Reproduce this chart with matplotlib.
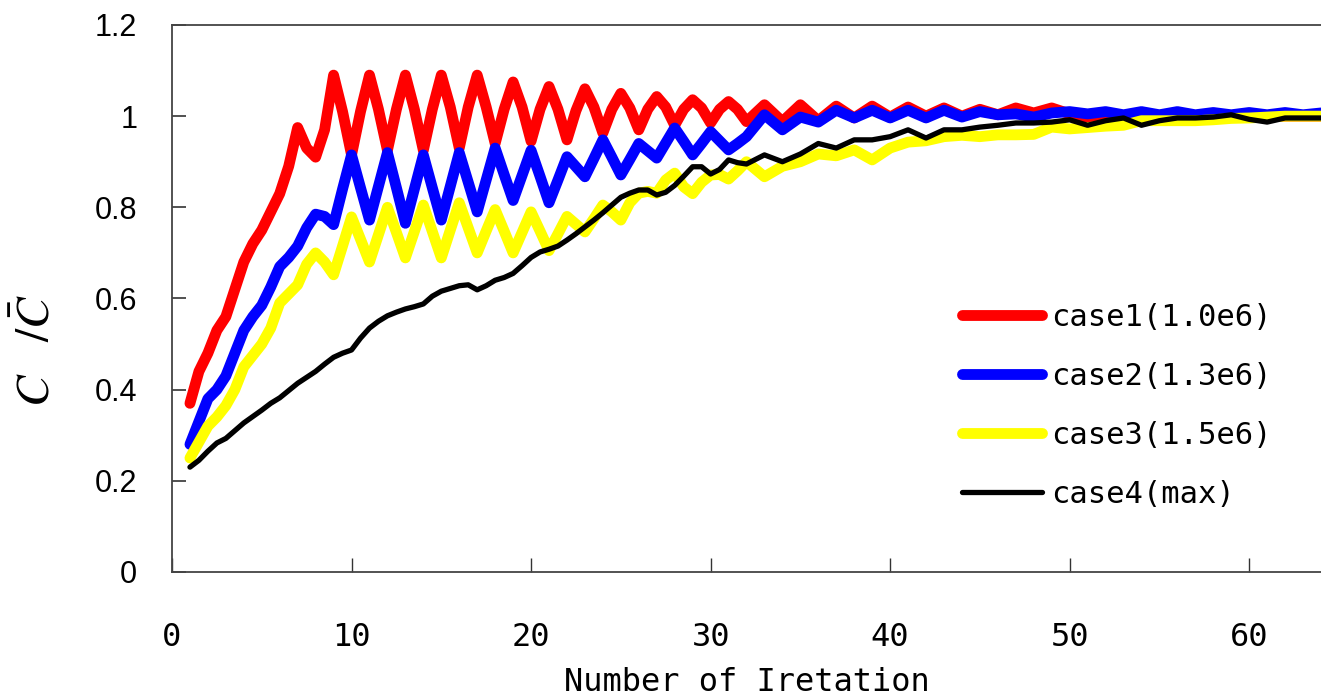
import numpy as np
import matplotlib
matplotlib.use("Agg")
import matplotlib.pyplot as plt

# iteration numbers: half steps up to 31.5, whole steps after
iters = np.concatenate([np.arange(1, 32, 0.5), np.arange(32, 65, 1)])

case1 = [0.37, 0.44, 0.48, 0.53, 0.56, 0.62, 0.68, 0.72, 0.75, 0.79,
         0.83, 0.89, 0.975, 0.93, 0.91, 0.97, 1.09, 1.01, 0.915, 1.01,
         1.09, 1.015, 0.925, 1.015, 1.09, 1.015, 0.925, 1.015, 1.09, 1.02,
         0.93, 1.02, 1.09, 1.02, 0.94, 1.015, 1.075, 1.02, 0.945, 1.015,
         1.065, 1.015, 0.948, 1.012, 1.06, 1.02, 0.963, 1.015, 1.05, 1.018,
         0.97, 1.015, 1.043, 1.02, 0.98, 1.015, 1.036, 1.018, 0.985, 1.015,
         1.032, 1.015,
         0.988, 1.025, 0.988, 1.025, 0.99, 1.022, 0.996, 1.022, 0.998, 1.02,
         1.0, 1.018, 1.0, 1.015, 1.003, 1.018, 1.007, 1.018, 1.005, 0.99,
         1.0, 1.0, 1.0, 1.0, 1.0, 1.0, 1.0, 1.0, 1.0, 1.0,
         1.0, 1.0, 1.0]

case2 = [0.28, 0.33, 0.38, 0.40, 0.43, 0.48, 0.53, 0.56, 0.585, 0.625,
         0.67, 0.69, 0.715, 0.755, 0.785, 0.78, 0.762, 0.84, 0.915, 0.843,
         0.772, 0.846, 0.92, 0.843, 0.765, 0.84, 0.915, 0.843, 0.772, 0.846,
         0.92, 0.855, 0.79, 0.86, 0.93, 0.872, 0.815, 0.87, 0.925, 0.868,
         0.81, 0.86, 0.911, 0.889, 0.867, 0.907, 0.948, 0.91, 0.871, 0.905,
         0.94, 0.924, 0.908, 0.941, 0.974, 0.945, 0.915, 0.94, 0.966, 0.946,
         0.926, 0.94,
         0.955, 1.003, 0.97, 0.998, 0.987, 1.013, 0.996, 1.013, 0.996, 1.013,
         0.996, 1.013, 0.998, 1.01, 1.003, 1.005, 0.998, 1.007, 1.01, 1.005,
         1.01, 1.003, 1.01, 1.003, 1.01, 1.003, 1.008, 1.003, 1.008, 1.003,
         1.008, 1.003, 1.007]

case3 = [0.25, 0.285, 0.32, 0.34, 0.365, 0.40, 0.45, 0.475, 0.50, 0.535,
         0.59, 0.61, 0.63, 0.675, 0.70, 0.68, 0.652, 0.715, 0.779, 0.73,
         0.68, 0.74, 0.80, 0.745, 0.689, 0.747, 0.805, 0.747, 0.689, 0.75,
         0.81, 0.755, 0.70, 0.748, 0.795, 0.748, 0.70, 0.745, 0.79, 0.748,
         0.705, 0.742, 0.78, 0.763, 0.746, 0.775, 0.805, 0.79, 0.772, 0.81,
         0.831, 0.835, 0.831, 0.86, 0.875, 0.845, 0.83, 0.855, 0.871, 0.872,
         0.862, 0.88,
         0.9, 0.867, 0.89, 0.9, 0.917, 0.913, 0.926, 0.904, 0.93, 0.943,
         0.946, 0.955, 0.958, 0.955, 0.959, 0.959, 0.96, 0.976, 0.972, 0.975,
         0.978, 0.98, 0.99, 0.99, 0.99, 0.99, 0.992, 0.995, 0.996, 0.998,
         1.0, 1.0, 1.0]

case4 = [0.23, 0.245, 0.265, 0.283, 0.293, 0.31, 0.327, 0.341, 0.355, 0.37,
         0.382, 0.398, 0.414, 0.427, 0.44, 0.456, 0.471, 0.48, 0.487, 0.513,
         0.535, 0.55, 0.562, 0.57, 0.577, 0.582, 0.588, 0.605, 0.616, 0.622,
         0.628, 0.63, 0.619, 0.628, 0.64, 0.646, 0.655, 0.672, 0.69, 0.702,
         0.708, 0.715, 0.728, 0.742, 0.757, 0.772, 0.788, 0.805, 0.822, 0.831,
         0.838, 0.838, 0.827, 0.833, 0.848, 0.868, 0.889, 0.889, 0.873, 0.883,
         0.904, 0.898,
         0.895, 0.915, 0.9, 0.917, 0.94, 0.93, 0.948, 0.948, 0.955, 0.97,
         0.952, 0.97, 0.97, 0.976, 0.98, 0.985, 0.985, 0.987, 0.992, 0.98,
         0.99, 0.996, 0.98, 0.99, 0.996, 0.996, 0.998, 1.003, 0.993, 0.987,
         0.996, 0.996, 0.996]

labels = ["case1(1.0e6)", "case2(1.3e6)", "case3(1.5e6)", "case4(max)"]
colors = ["#ff0000", "#0000ff", "#ffff00", "#000000"]
widths = [7.8, 7.8, 7.8, 3.8]

xticks = [0, 10, 20, 30, 40, 50, 60]
yticks = [0, 0.2, 0.4, 0.6, 0.8, 1.0, 1.2]
ytick_labels = ["0", "0.2", "0.4", "0.6", "0.8", "1", "1.2"]

mono = ["DejaVu Sans Mono"]

plt.rcParams["mathtext.fontset"] = "stix"

fig = plt.figure(figsize=(13.21, 7.0), dpi=100)
ax = fig.add_axes([0.1302, 0.1829, 0.8698, 0.7814])

for ys, lab, c, w in zip([case1, case2, case3, case4], labels, colors, widths):
    ax.plot(iters, ys, color=c, lw=w, label=lab,
            solid_joinstyle="round", solid_capstyle="round")

ax.set_xlim(0, 64)
ax.set_ylim(0, 1.2)
ax.set_xticks(xticks)
ax.set_yticks(yticks)
ax.set_yticklabels(ytick_labels, family="Liberation Sans", fontsize=22)
ax.set_xticklabels([str(t) for t in xticks], family=mono, fontsize=23)
ax.tick_params(axis="y", direction="in", length=10, width=1.2, pad=25,
               color="#333333")
ax.tick_params(axis="x", direction="in", length=10, width=1.0, pad=36,
               color="#333333")

for side in ["left", "top", "bottom"]:
    ax.spines[side].set_color("#444444")
    ax.spines[side].set_linewidth(1.3)
ax.spines["right"].set_visible(False)

ax.set_xlabel("Number of Iretation", family=mono, fontsize=23, labelpad=10)
ax.set_ylabel(r"$C\ \ \ /\bar{C}$", fontsize=34)
ax.yaxis.set_label_coords(-0.098, 0.405)

leg = ax.legend(loc="center left", bbox_to_anchor=(0.717, 0.42),
                bbox_transform=fig.transFigure, frameon=False,
                prop={"family": mono, "size": 22}, handlelength=2.6,
                handletextpad=0.3, labelspacing=0.98, borderpad=0)

fig.savefig("out.png", dpi=100)
